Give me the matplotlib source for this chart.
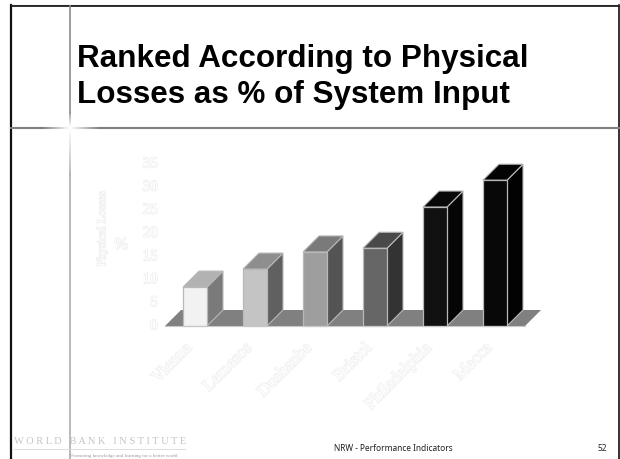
"""Ranked physical losses slide, faux 3D bars."""
import numpy as np
import matplotlib
matplotlib.use("Agg")
import matplotlib.pyplot as plt
import matplotlib.patheffects as pe
from matplotlib.collections import LineCollection
from matplotlib.patches import Polygon

cities = ["Vienna", "Lemesos", "Dushanbe", "Bristol", "Philadelphia", "Mecca"]
losses = [8.4, 12.3, 16.0, 16.8, 25.7, 31.5]
front_colors = ["#f2f2f2", "#c4c4c4", "#9e9e9e", "#666666", "#111111", "#080808"]
top_colors = ["#b2b2b2", "#8e8e8e", "#7a7a7a", "#4a4a4a", "#080808", "#040404"]
side_colors = ["#7a7a7a", "#606060", "#545454", "#333333", "#050505", "#020202"]
y_ticks = [0, 5, 10, 15, 20, 25, 30, 35]

W, H = 620, 459
fig = plt.figure(figsize=(W / 100, H / 100), dpi=100, facecolor="white")

# slide furniture, in pixel coordinates
bg = fig.add_axes([0, 0, 1, 1])
bg.set_xlim(0, W)
bg.set_ylim(H, 0)
bg.axis("off")


def fade_line(p0, p1, grey0, grey1, lw):
    # line whose grey level goes from grey0 to grey1
    n = 40
    xs = np.linspace(p0[0], p1[0], n + 1)
    ys = np.linspace(p0[1], p1[1], n + 1)
    segs = [[(xs[i], ys[i]), (xs[i + 1], ys[i + 1])] for i in range(n)]
    greys = np.linspace(grey0, grey1, n)
    bg.add_collection(LineCollection(segs, colors=[(g, g, g) for g in greys], linewidths=lw))


bg.plot([11, 11], [5, H], color="#111111", lw=1.6)
bg.plot([618.5, 618.5], [5, H], color="#111111", lw=1.2)
bg.plot([11, W], [4.5, 4.5], color="#999999", lw=0.8)
bg.plot([11, 619], [6.2, 6.2], color="#111111", lw=1.2)
bg.plot([70, 70], [6, 112], color="#8a8a8a", lw=1.2)
fade_line((70, 112), (70, 127), 0.54, 1.0, 1.2)
fade_line((70, 127), (70, 175), 1.0, 0.68, 1.2)
bg.plot([70, 70], [175, H], color="#adadad", lw=1.2)
bg.plot([11, 42], [127.5, 127.5], color="#808080", lw=1.5)
fade_line((42, 127.5), (70, 127.5), 0.5, 1.0, 1.5)
fade_line((70, 127.5), (100, 127.5), 1.0, 0.5, 1.5)
bg.plot([100, W], [127.5, 127.5], color="#808080", lw=1.5)

bg.text(77, 67, "Ranked According to Physical", family="Liberation Sans", weight="bold",
        fontsize=22.6, va="baseline", ha="left", color="black")
bg.text(77, 103, "Losses as % of System Input", family="Liberation Sans", weight="bold",
        fontsize=22.6, va="baseline", ha="left", color="black")
bg.text(393, 448.5, "NRW - Performance Indicators", family="Noto Sans", fontsize=6,
        ha="center", va="center", color="#222222")
bg.text(607, 448.5, "52", family="Noto Sans", fontsize=6, ha="right", va="center", color="#222222")

# faded logo
bg.text(14, 442, "W O R L D   B A N K   I N S T I T U T E", family="Liberation Serif", fontsize=7.5,
        color="#c4c4c4", va="center", ha="left")
bg.plot([14, 185], [449, 449], color="#dddddd", lw=0.7)
bg.text(70, 456, "Promoting knowledge and learning for a better world", family="Liberation Serif",
        fontsize=3.6, color="#999999", va="center", ha="left")

# chart axes: categories 60 px apart, 5 units = 23.15 px
ax = fig.add_axes([165 / W, 1 - 326 / H, 390 / W, 162 / H])
ax.set_xlim(-0.5, 6)
ax.set_ylim(0, 35)
ax.axis("off")
bar_w = 0.4
dx = 16 / 60
dy = 16 / (162 / 35)
edge = "#b8b8b8"

x_pos = np.arange(len(cities))

# floor
floor_l = -0.5
floor_r = 5.5
ax.add_patch(Polygon([(floor_l, 0), (floor_r, 0), (floor_r + dx, dy), (floor_l + dx, dy)],
                     closed=True, fc="#808080", ec="none", clip_on=False))
ax.plot([floor_l, floor_r], [0, 0], color="#c8c8c8", lw=0.8, clip_on=False)

for x, val, fc, tc, sc in zip(x_pos, losses, front_colors, top_colors, side_colors):
    l, r = x - bar_w / 2, x + bar_w / 2
    ax.add_patch(Polygon([(r, 0), (r + dx, dy), (r + dx, val + dy), (r, val)], closed=True,
                         fc=sc, ec=edge, lw=0.8, clip_on=False))
    ax.add_patch(Polygon([(l, val), (r, val), (r + dx, val + dy), (l + dx, val + dy)], closed=True,
                         fc=tc, ec=edge, lw=0.8, clip_on=False))
    ax.bar(x, val, width=bar_w, color=fc, edgecolor=edge, linewidth=0.9, clip_on=False)

# ghost text labels (white text with faint outline)
ghost = [pe.withStroke(linewidth=0.9, foreground="#ececec")]
for tick in y_ticks:
    ax.text(-0.62, tick, str(tick), family="Liberation Serif", fontsize=11, color="white",
            ha="right", va="center", path_effects=ghost, clip_on=False)
for x, name in zip(x_pos, cities):
    ax.text(x - 0.18, -3.0, name, family="Liberation Serif", fontsize=12.5, color="white",
            rotation=45, rotation_mode="anchor", ha="right", va="top", path_effects=ghost, clip_on=False)
ax.text(-1.55, 21, "Physical Losses", family="Liberation Serif", fontsize=8.5, color="white",
        rotation=90, ha="center", va="center", path_effects=ghost, clip_on=False)
ax.text(-1.23, 17.5, "%", family="Liberation Serif", fontsize=12, color="white",
        ha="center", va="center", path_effects=ghost, clip_on=False)

fig.savefig("out.png", dpi=100, facecolor="white")
